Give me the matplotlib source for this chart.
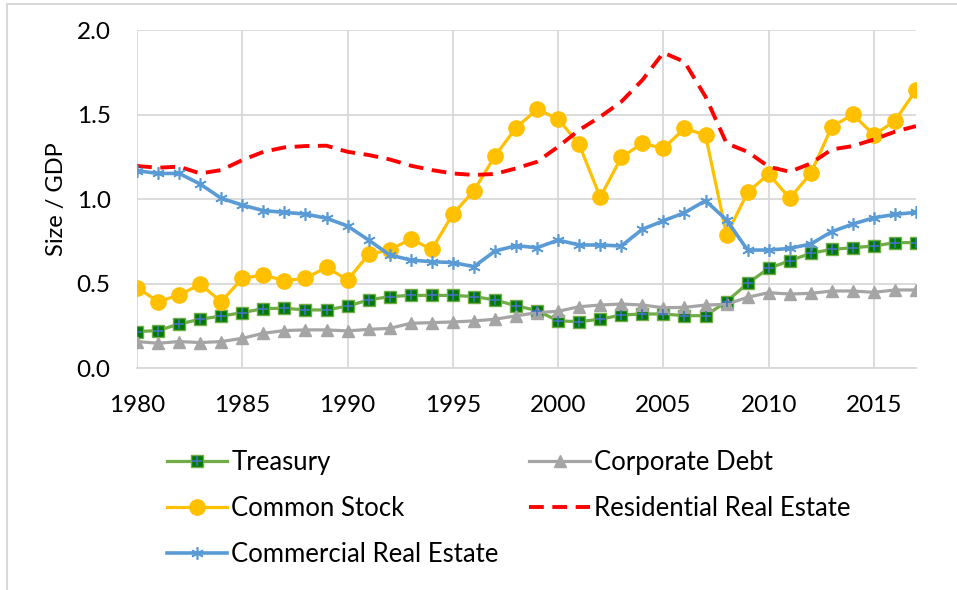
import matplotlib
matplotlib.use("Agg")
import matplotlib.pyplot as plt
from matplotlib.lines import Line2D
from matplotlib.legend_handler import HandlerTuple

plt.rcParams['font.family'] = ['Lato', 'DejaVu Sans']

years = list(range(1980, 2018))

treasury = [0.217, 0.223, 0.262, 0.290, 0.309, 0.329, 0.353, 0.355, 0.345, 0.345,
            0.368, 0.404, 0.424, 0.431, 0.431, 0.431, 0.424, 0.404, 0.370, 0.341,
            0.280, 0.276, 0.290, 0.315, 0.321, 0.321, 0.311, 0.311, 0.394, 0.502,
            0.591, 0.636, 0.680, 0.703, 0.713, 0.723, 0.743, 0.743]

corporate = [0.158, 0.148, 0.158, 0.152, 0.158, 0.177, 0.207, 0.223, 0.227, 0.227,
             0.221, 0.230, 0.236, 0.266, 0.270, 0.274, 0.280, 0.290, 0.310, 0.329,
             0.337, 0.364, 0.374, 0.380, 0.374, 0.358, 0.360, 0.374, 0.378, 0.420,
             0.447, 0.439, 0.443, 0.457, 0.457, 0.449, 0.463, 0.463]

stock = [0.477, 0.394, 0.433, 0.496, 0.394, 0.532, 0.552, 0.518, 0.532, 0.597,
         0.522, 0.674, 0.700, 0.764, 0.703, 0.912, 1.050, 1.255, 1.422, 1.531,
         1.474, 1.324, 1.011, 1.247, 1.330, 1.300, 1.418, 1.379, 0.788, 1.040,
         1.149, 1.005, 1.152, 1.428, 1.501, 1.379, 1.464, 1.645]

residential = [1.196, 1.186, 1.192, 1.152, 1.172, 1.231, 1.280, 1.306, 1.314, 1.316,
               1.280, 1.261, 1.235, 1.198, 1.172, 1.152, 1.143, 1.149, 1.182, 1.221,
               1.310, 1.409, 1.487, 1.576, 1.704, 1.866, 1.812, 1.606, 1.330, 1.280,
               1.192, 1.162, 1.211, 1.294, 1.314, 1.353, 1.399, 1.432]

commercial = [1.168, 1.152, 1.152, 1.089, 1.005, 0.965, 0.932, 0.922, 0.912, 0.887,
              0.841, 0.758, 0.670, 0.640, 0.630, 0.625, 0.601, 0.693, 0.725, 0.713,
              0.758, 0.729, 0.729, 0.723, 0.822, 0.872, 0.920, 0.991, 0.877, 0.699,
              0.699, 0.709, 0.735, 0.808, 0.853, 0.890, 0.910, 0.922]

fig = plt.figure(figsize=(9.57, 5.90), dpi=100)
ax = fig.add_axes([0.1432, 0.3758, 0.8140, 0.5733])

grid_c = '#D9D9D9'

# treasury: green square with blue plus on top
t_line, = ax.plot(years, treasury, color='#70AD47', lw=2.3, marker='s', ms=8.5,
                  mfc='#007A00', mec='#70AD47', mew=1.0, zorder=3)
t_plus, = ax.plot(years, treasury, ls='none', marker='+', ms=7, mec='#4472C4',
                  mew=1.2, zorder=4)
c_line, = ax.plot(years, corporate, color='#A5A5A5', lw=2.3, marker='^', ms=8,
                  mfc='#A5A5A5', mec='#A5A5A5', zorder=3)
s_line, = ax.plot(years, stock, color='#FFC000', lw=2.3, marker='o', ms=11,
                  mfc='#FFC000', mec='#FFC000', zorder=3)
r_line, = ax.plot(years, residential, color='#FF0000', lw=2.8, ls=(0, (3.8, 2.2)),
                  zorder=3)
m_line, = ax.plot(years, commercial, color='#5B9BD5', lw=2.6, marker=(6, 2, 0),
                  ms=9, mec='#5B9BD5', mew=1.2, zorder=3)

ax.set_xlim(1980, 2017)
ax.set_ylim(0, 2.0)
ax.set_xticks(range(1980, 2016, 5))
ax.set_yticks([0, 0.5, 1.0, 1.5, 2.0])
ax.set_yticklabels(['0.0', '0.5', '1.0', '1.5', '2.0'])
ax.tick_params(axis='both', length=0, labelsize=17.5, colors='black')
ax.tick_params(axis='x', pad=19)
ax.tick_params(axis='y', pad=19)
ax.grid(True, color=grid_c, lw=1.3)
ax.set_axisbelow(True)
for side in ['top', 'right', 'left']:
    ax.spines[side].set_visible(False)
ax.spines['bottom'].set_color(grid_c)
ax.spines['bottom'].set_linewidth(1.3)
ax.set_ylabel('Size / GDP', fontsize=17)
ax.yaxis.set_label_coords(-0.09, 0.5)

handles = [(t_line, t_plus), s_line, m_line, c_line, r_line]
labels = ['Treasury', 'Common Stock', 'Commercial Real Estate',
          'Corporate Debt', 'Residential Real Estate']
fig.legend(handles, labels, ncol=2, loc='upper left', bbox_to_anchor=(0.1745, 0.238),
           frameon=False, fontsize=18.5, handlelength=2.35, handletextpad=0.15,
           labelspacing=0.83, columnspacing=1.2, borderpad=0, borderaxespad=0,
           handler_map={tuple: HandlerTuple(ndivide=1, pad=0)})

# light frame edge
fig.add_artist(Line2D([0.0075, 0.0075], [0, 0.993], color=grid_c, lw=1.5))
fig.add_artist(Line2D([0.0075, 1.0], [0.993, 0.993], color=grid_c, lw=1.5))

fig.savefig('out.png', dpi=100)
